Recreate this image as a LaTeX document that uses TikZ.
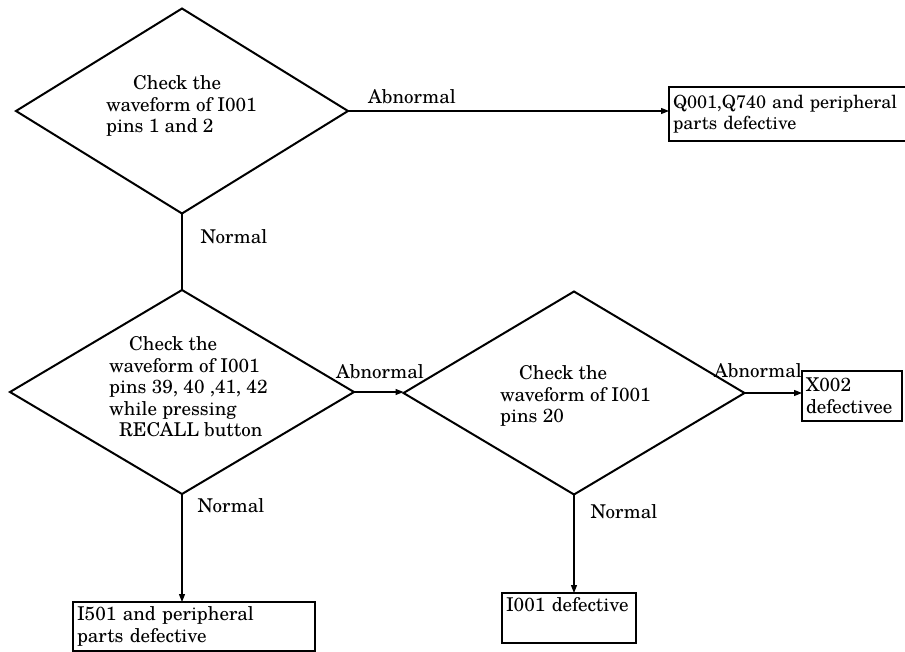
\documentclass[tikz,border=0pt]{standalone}
\usepackage{fontspec}
\setmainfont{texgyreschola-regular.otf}
\usetikzlibrary{shapes.geometric,arrows.meta}
\begin{document}
\begin{tikzpicture}[x=1pt,y=-1pt,
  every node/.style={font=\fontsize{19}{21.5}\selectfont},
  decision/.style={shape=diamond,draw,line width=2pt,inner sep=0pt,outer sep=0pt},
  result/.style={draw,line width=2pt,rectangle,inner xsep=4pt,inner ysep=0pt,outer sep=0pt,align=left},
  qtext/.style={align=left,inner sep=0pt,anchor=west},
  tag/.style={inner sep=0pt},
  flow/.style={line width=1.2pt,-{Triangle[length=8pt,width=6pt]}},
  plain/.style={line width=1.6pt}]
\useasboundingbox (0,0) rectangle (905,651);

% decision diamonds
\node[decision,minimum width=332pt,minimum height=205pt] (d1) at (182,111) {};
\node[decision,minimum width=344pt,minimum height=204pt] (d2) at (182,392) {};
\node[decision,minimum width=341pt,minimum height=203pt] (d3) at (574,393) {};

% questions inside the diamonds
\node[qtext] (q1) at (106,106) {\hspace*{27pt}Check the\\waveform of I001\\pins 1 and 2};
\node[qtext] (q2) at (109,387) {\hspace*{20pt}Check the\\waveform of I001\\pins 39, 40 ,41, 42\\while pressing\\\hspace*{10pt}RECALL button};
\node[qtext] (q3) at (500,396) {\hspace*{19pt}Check the\\waveform of I001\\pins 20};

% outcome boxes (the first one runs off the right edge)
\node[result,font=\fontsize{18.1}{21.5}\selectfont,text width=260pt,minimum height=54pt,anchor=north west] (r1) at (669,87) {Q001,Q740 and peripheral\\parts defective};
\node[result,text width=92pt,minimum height=50pt,anchor=north west] (r2) at (802,371) {X002\\defectivee};
\node[result,text width=234pt,minimum height=49pt,anchor=north west] (r3) at (73,602) {I501 and peripheral\\parts defective};
\node[result,text width=126pt,minimum height=50pt,anchor=north west] (r4) at (502,593) {I001 defective\\\strut};

% connectors
\draw[plain] (d1.south) -- (d2.north);
\draw[flow] (d1.east) -- (d1.east -| r1.west);
\draw[flow] (d2.east) -- (d2.east -| d3.west);
\draw[flow] (d3.east) -- (d3.east -| r2.west);
\draw[flow] (d2.south) -- (d2.south |- r3.north);
\draw[flow] (d3.south) -- (d3.south |- r4.north);

% branch labels
\node[tag] (l1) at (412,97) {Abnormal};
\node[tag] (l2) at (234,237) {Normal};
\node[tag] (l3) at (380,372) {Abnormal};
\node[tag] (l4) at (758,371) {Abnormal};
\node[tag] (l5) at (231,506) {Normal};
\node[tag] (l6) at (624,512) {Normal};
\end{tikzpicture}
\end{document}
